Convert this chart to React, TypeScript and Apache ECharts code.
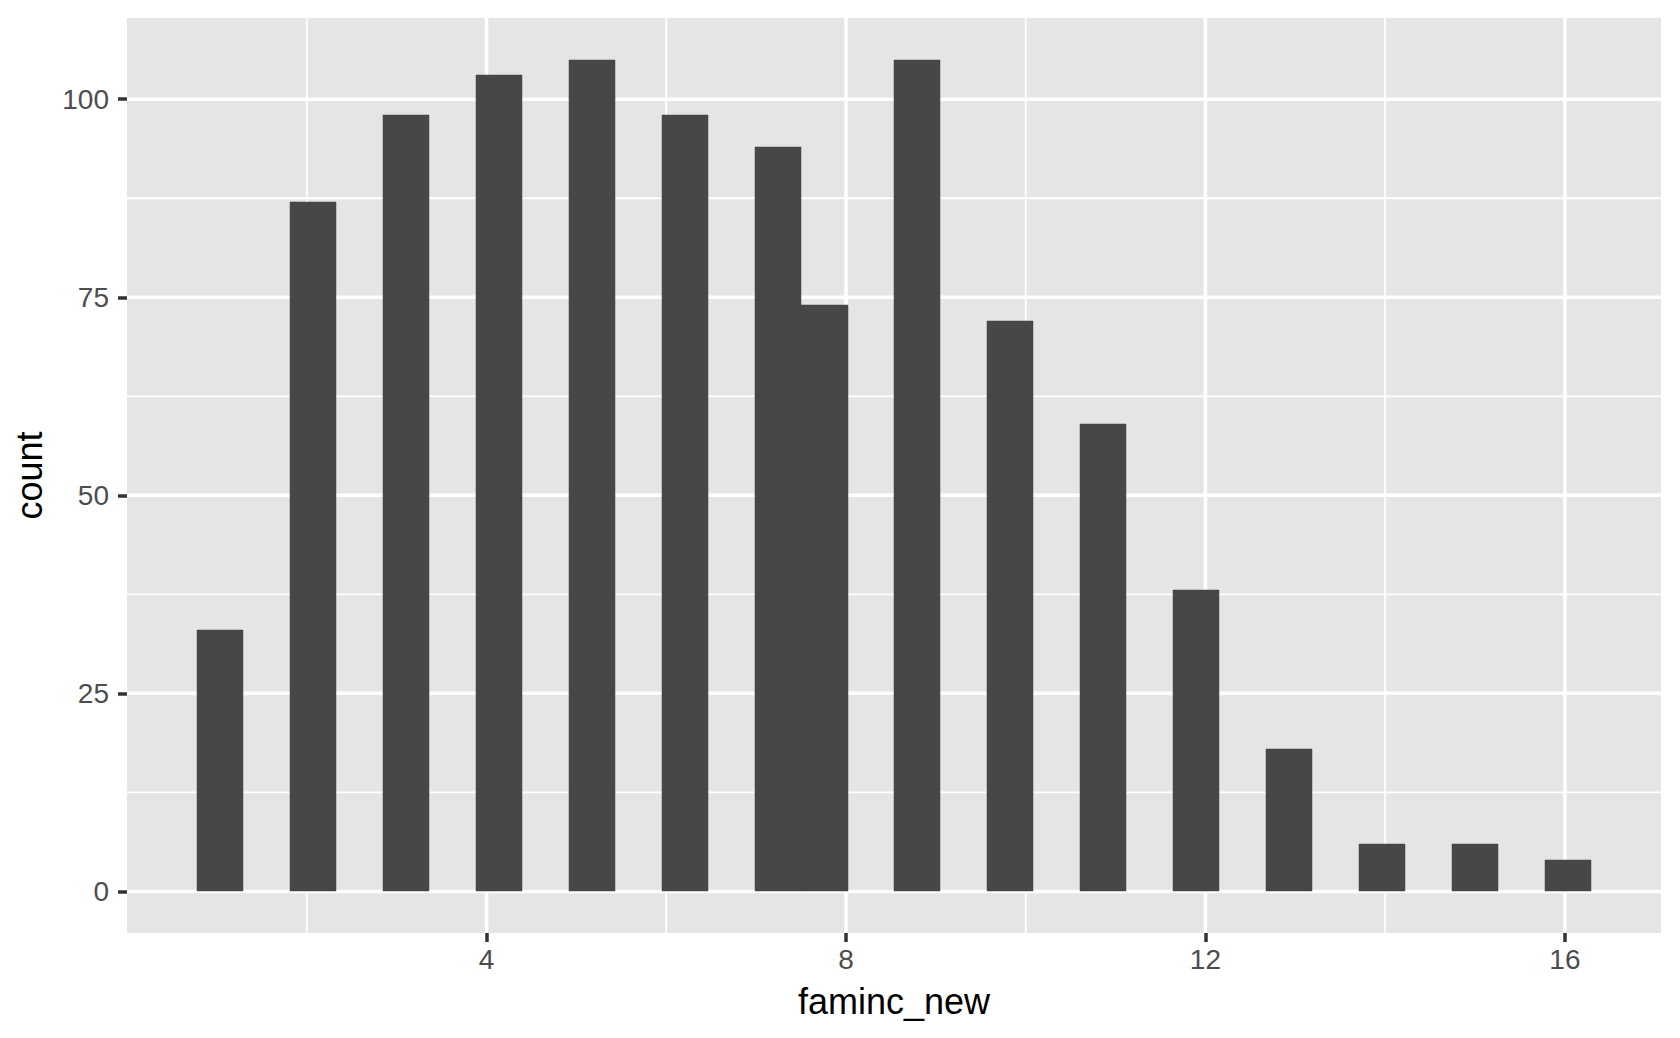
import React, { useEffect, useRef } from "react";
import * as echarts from "echarts";

const famincValues = [1, 2, 3, 4, 5, 6, 7, 8, 9, 10, 11, 12, 13, 14, 15, 16];
const counts = [33, 87, 98, 103, 105, 98, 94, 74, 105, 72, 59, 38, 18, 6, 6, 4];
const BINS = 30;

const xTickLabels = [4, 8, 12, 16];
const xMinorBreaks = [2, 6, 10, 14];
const yTickLabels = [0, 25, 50, 75, 100];
const yMinorBreaks = [12.5, 37.5, 62.5, 87.5];

// ggplot2-style binning (bins = 30, boundary = width / 2, right-closed)
const vMin = Math.min(...famincValues);
const vMax = Math.max(...famincValues);
const binWidth = (vMax - vMin) / (BINS - 1);
const boundary = binWidth / 2;
const origin = boundary + Math.floor((vMin - boundary) / binWidth) * binWidth;
const binData = famincValues.map((v, i) => {
  const idx = Math.ceil((v - origin) / binWidth - 1e-9) - 1;
  const left = origin + idx * binWidth;
  return [left, left + binWidth, counts[i]];
});
const xLo = origin;
const xHi = origin + BINS * binWidth;
const xPad = (xHi - xLo) * 0.05;
const yMaxC = Math.max(...counts);
const yPad = yMaxC * 0.05;

// gridline descriptors: [orientation (0 = vertical, 1 = horizontal), value, major?]
const gridData = [
  ...xMinorBreaks.map((v) => [0, v, 0]),
  ...yMinorBreaks.map((v) => [1, v, 0]),
  ...xTickLabels.map((v) => [0, v, 1]),
  ...yTickLabels.map((v) => [1, v, 1]),
];

const FONT = "'Liberation Sans', Arial, Helvetica, sans-serif";

export default function App() {
  const ref = useRef<HTMLDivElement>(null);
  useEffect(() => {
    document.body.style.margin = "0";
    const chart = echarts.init(ref.current!, null, { renderer: "svg" });
    chart.setOption({
      animation: false,
      backgroundColor: "#FFFFFF",
      grid: {
        left: 127,
        right: 19,
        top: 18,
        bottom: 105,
        show: true,
        backgroundColor: "#E5E5E5",
        borderWidth: 0,
      },
      xAxis: {
        type: "value",
        min: xLo - xPad,
        max: xHi + xPad,
        interval: 4,
        name: "faminc_new",
        nameLocation: "middle",
        nameGap: 50,
        nameTextStyle: { color: "#000000", fontSize: 36, fontFamily: FONT },
        axisLine: { show: false, onZero: false },
        axisTick: {
          show: true,
          length: 9,
          customValues: xTickLabels,
          lineStyle: { color: "#333333", width: 3.5 },
        },
        axisLabel: {
          customValues: xTickLabels,
          color: "#4D4D4D",
          fontSize: 28,
          fontFamily: FONT,
          margin: 12,
        },
        splitLine: { show: false },
        minorSplitLine: { show: false },
      },
      yAxis: {
        type: "value",
        min: -yPad,
        max: yMaxC + yPad,
        name: "count",
        nameLocation: "middle",
        nameGap: 80,
        nameTextStyle: { color: "#000000", fontSize: 36, fontFamily: FONT },
        axisLine: { show: false, onZero: false },
        axisTick: {
          show: true,
          length: 9,
          customValues: yTickLabels,
          lineStyle: { color: "#333333", width: 3.5 },
        },
        axisLabel: {
          customValues: yTickLabels,
          color: "#4D4D4D",
          fontSize: 28,
          fontFamily: FONT,
          margin: 18,
        },
        splitLine: { show: false },
        minorSplitLine: { show: false },
      },
      series: [
        {
          type: "custom",
          z: 1,
          silent: true,
          data: gridData,
          encode: { x: -1, y: -1 },
          renderItem: (params: any, api: any) => {
            const cs = params.coordSys;
            const orient = api.value(0);
            const val = api.value(1);
            const major = api.value(2) === 1;
            const width = major ? 3.5 : 1.8;
            if (orient === 0) {
              const px = api.coord([val, 0])[0];
              return {
                type: "line",
                shape: { x1: px, y1: cs.y, x2: px, y2: cs.y + cs.height },
                style: { stroke: "#FFFFFF", lineWidth: width },
              };
            }
            const py = api.coord([0, val])[1];
            return {
              type: "line",
              shape: { x1: cs.x, y1: py, x2: cs.x + cs.width, y2: py },
              style: { stroke: "#FFFFFF", lineWidth: width },
            };
          },
        },
        {
          type: "custom",
          z: 2,
          data: binData,
          encode: { x: [0, 1], y: 2 },
          renderItem: (params: any, api: any) => {
            const p0 = api.coord([api.value(0), api.value(2)]);
            const p1 = api.coord([api.value(1), 0]);
            const x0 = Math.round(p0[0]);
            const x1 = Math.round(p1[0]);
            const y0 = Math.round(p0[1]);
            const y1 = Math.round(p1[1]);
            return {
              type: "rect",
              shape: { x: x0, y: y0, width: x1 - x0, height: y1 - y0 },
              style: { fill: "#474747", stroke: "#474747", lineWidth: 0.5 },
            };
          },
        },
      ],
    });
    return () => chart.dispose();
  }, []);
  return <div ref={ref} style={{ width: 1680, height: 1038 }} />;
}
